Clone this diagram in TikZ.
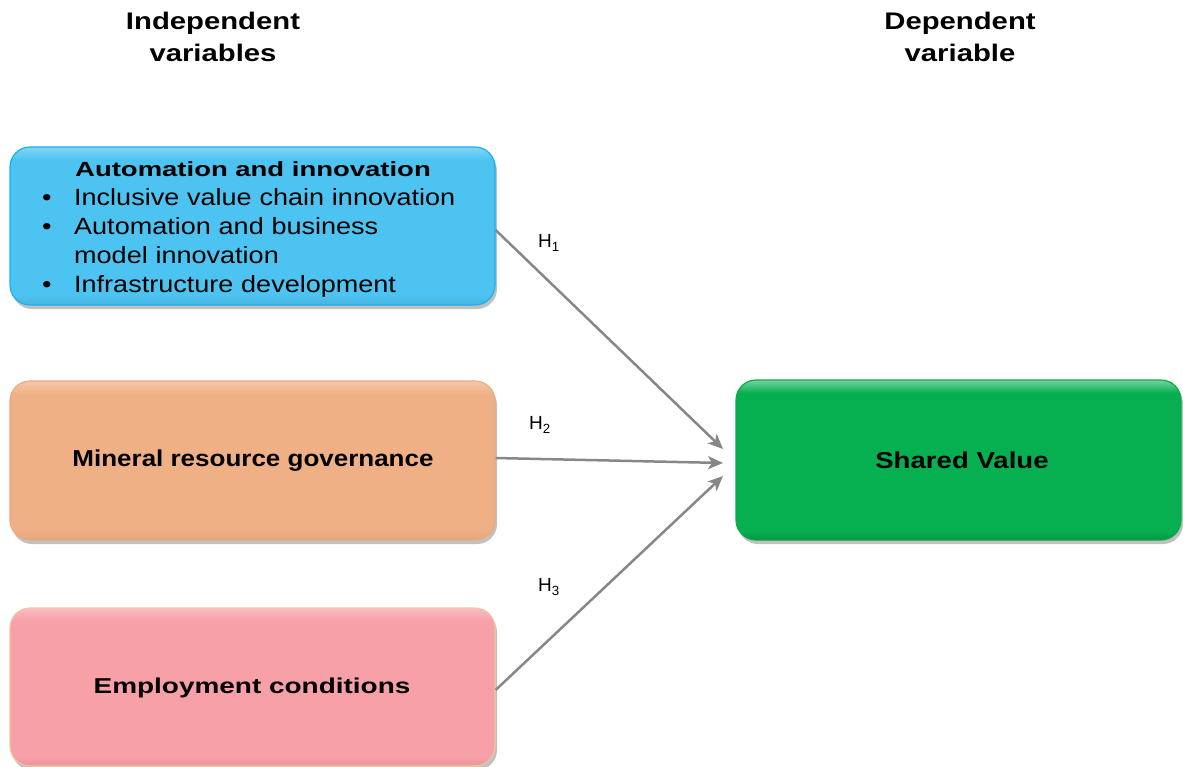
\documentclass[tikz,border=0pt]{standalone}
\usepackage{fontspec}
\setmainfont{Liberation Sans}
% horizontally widened faces used by the labels
\newfontfamily\wideHead[FakeStretch=1.22]{Liberation Sans}
\newfontfamily\wideTitle[FakeStretch=1.34]{Liberation Sans}
\newfontfamily\wideList[FakeStretch=1.15]{Liberation Sans}
\newfontfamily\wideLabel[FakeStretch=1.2]{Liberation Sans}
\newfontfamily\wideLabelM[FakeStretch=1.13]{Liberation Sans}
\newfontfamily\wideLabelB[FakeStretch=1.3]{Liberation Sans}
\usetikzlibrary{shadows,arrows.meta}

\definecolor{blueFill}{HTML}{4DC3F2}
\definecolor{blueEdge}{HTML}{1BB0EA}
\definecolor{orangeFill}{HTML}{F0B086}
\definecolor{orangeEdge}{HTML}{ECAA7E}
\definecolor{pinkFill}{HTML}{F7A0A8}
\definecolor{pinkEdge}{HTML}{EBC8A2}
\definecolor{greenFill}{HTML}{06B050}
\definecolor{greenEdge}{HTML}{0CA84C}
\definecolor{linkGray}{HTML}{878787}

% bevelled fills: flat body, light band along the top, slightly darker bottom
\pgfdeclareverticalshading{bluebevel}{100bp}{color(0bp)=(blueFill!92!black); color(25bp)=(blueFill!92!black);
  color(28bp)=(blueFill); color(71bp)=(blueFill); color(75bp)=(blueFill!70!white); color(100bp)=(blueFill!70!white)}
\pgfdeclareverticalshading{orangebevel}{100bp}{color(0bp)=(orangeFill!94!black); color(25bp)=(orangeFill!94!black);
  color(28bp)=(orangeFill); color(71bp)=(orangeFill); color(75bp)=(orangeFill!70!white); color(100bp)=(orangeFill!70!white)}
\pgfdeclareverticalshading{pinkbevel}{100bp}{color(0bp)=(pinkFill!94!black); color(25bp)=(pinkFill!94!black);
  color(28bp)=(pinkFill); color(71bp)=(pinkFill); color(75bp)=(pinkFill!70!white); color(100bp)=(pinkFill!70!white)}
\pgfdeclareverticalshading{greenbevel}{100bp}{color(0bp)=(greenFill!85!black); color(25bp)=(greenFill!85!black);
  color(28bp)=(greenFill); color(71bp)=(greenFill); color(75bp)=(greenFill!55!white); color(100bp)=(greenFill!55!white)}

\tikzset{
  varbox/.style={rounded corners=20pt, line width=1.2pt, inner sep=0pt,
    drop shadow={shadow xshift=2pt, shadow yshift=-4pt, opacity=0.35, fill=black!70}},
  header/.style={font=\wideHead\fontsize{24}{32}\selectfont\bfseries, align=center},
  boxlabel/.style={font=\wideLabel\fontsize{23}{27}\selectfont\bfseries},
  link/.style={draw=linkGray, line width=2.5pt, -{Stealth[length=15pt,width=13pt,inset=4pt]}},
  hyp/.style={font=\fontsize{19}{21}\selectfont}
}
\newcommand{\bulletrow}[1]{\makebox[34pt][l]{\hspace{2pt}\textbullet}#1}
\newcommand{\plainrow}[1]{\hspace*{34pt}#1}

\begin{document}
\begin{tikzpicture}[x=1pt,y=-1pt]
\useasboundingbox (0,0) rectangle (1183,766);

% column headings
\node[header] (indep) at (213,37) {Independent\\variables};
\node[header] (dep) at (960,37) {Dependent\\variable};

% independent variable boxes
\node[varbox, draw=blueEdge, shading=bluebevel,
  minimum width=485pt, minimum height=158pt] (auto) at (252.5,226) {};
\node[varbox, draw=orangeEdge, shading=orangebevel,
  minimum width=485pt, minimum height=159pt] (mineral) at (252.5,460.5) {};
\node[varbox, draw=pinkEdge, shading=pinkbevel,
  minimum width=485pt, minimum height=158pt] (employ) at (252.5,687) {};

% dependent variable box
\node[varbox, draw=greenEdge, shading=greenbevel,
  minimum width=445pt, minimum height=160pt] (shared) at (958.5,460) {};

% box texts
\node[font=\wideTitle\fontsize{20.5}{24}\selectfont\bfseries] (autoTitle) at (253,169) {Automation and innovation};
\node[anchor=north west, inner sep=0pt, text width=440pt, align=left,
  font=\wideList\fontsize{23.5}{29}\selectfont] (autoList) at (40,188) {%
  \bulletrow{Inclusive value chain innovation}\\
  \bulletrow{Automation and business}\\
  \plainrow{model innovation}\\
  \bulletrow{Infrastructure development}};
\node[font=\wideLabelM\fontsize{23}{27}\selectfont\bfseries] (mineralText) at (253,461) {Mineral resource governance};
\node[font=\wideLabelB\fontsize{21.5}{25}\selectfont\bfseries] (employText) at (252,688) {Employment conditions};
\node[boxlabel] (sharedText) at (962,460) {Shared Value};

% arrow end points in front of the dependent box
\coordinate (in1) at (723,449);
\coordinate (in2) at (723,463);
\coordinate (in3) at (723,476);

% hypothesised paths
\draw[link] (auto.east |- 0,230) -- (in1);
\draw[link] (mineral.east |- 0,458) -- (in2);
\draw[link] (employ.east |- 0,690) -- (in3);

% hypothesis labels
\node[hyp] (h1) at (549,243) {H\textsubscript{1}};
\node[hyp] (h2) at (540,425) {H\textsubscript{2}};
\node[hyp] (h3) at (549,587) {H\textsubscript{3}};
\end{tikzpicture}
\end{document}
